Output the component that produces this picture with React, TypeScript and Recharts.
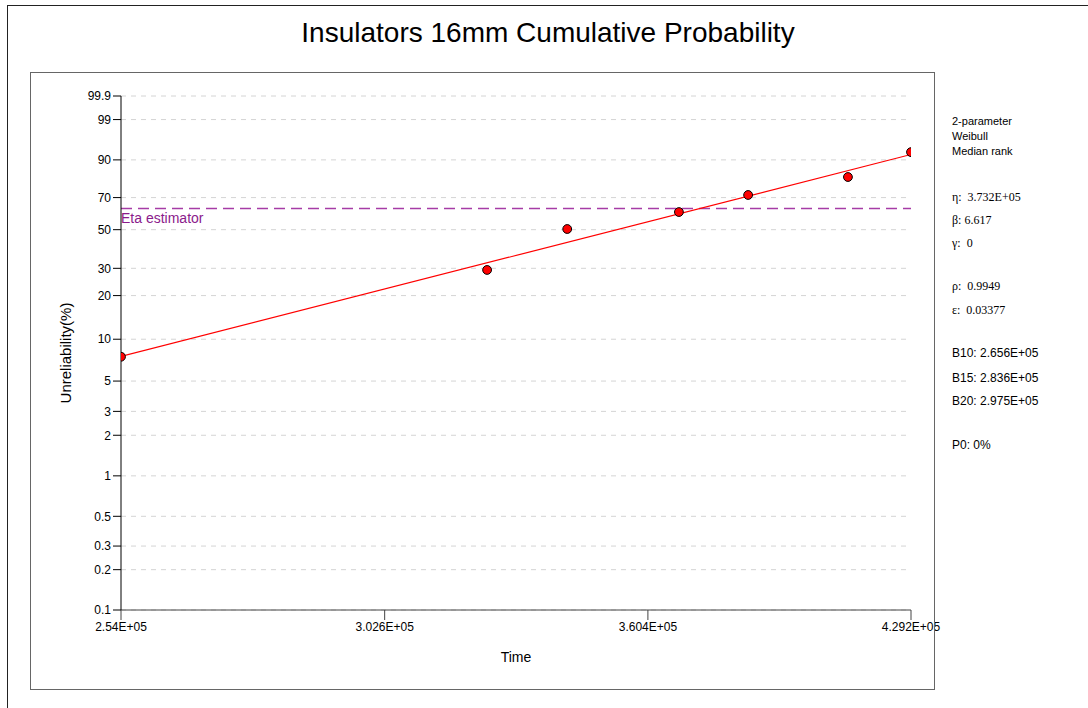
import React from "react"
import {
  ComposedChart,
  Scatter,
  XAxis,
  YAxis,
  CartesianGrid,
  ReferenceLine,
} from "recharts"

// Weibull probability paper: y axis in ln(-ln(1-F)) space
const yTickPercents = [0.1, 0.2, 0.3, 0.5, 1, 2, 3, 5, 10, 20, 30, 50, 70, 90, 99, 99.9]
const yTickLabels = ["0.1", "0.2", "0.3", "0.5", "1", "2", "3", "5", "10", "20", "30", "50", "70", "90", "99", "99.9"]

const xTicks = [254000, 302600, 360400, 429200]
const xTickLabels = ["2.54E+05", "3.026E+05", "3.604E+05", "4.292E+05"]

// failure points (time, unreliability %)
const failTimes = [254000, 323900, 341600, 367900, 385200, 411600, 429200]
const failUnrel = [7.5, 29.3, 50.4, 60.9, 71.6, 82.0, 92.8]

// fitted line endpoints
const fitTimes = [254000, 429200]
const fitUnrel = [7.54, 92.0]

const etaPercent = 63.2

const paramLines = ["2-parameter", "Weibull", "Median rank"]
const statLines = [
  { text: "η:  3.732E+05", y: 197 },
  { text: "β: 6.617", y: 220 },
  { text: "γ:  0", y: 243 },
  { text: "ρ:  0.9949", y: 286 },
  { text: "ε:  0.03377", y: 310 },
]
const bLines = [
  { text: "B10: 2.656E+05", y: 353 },
  { text: "B15: 2.836E+05", y: 378 },
  { text: "B20: 2.975E+05", y: 401 },
  { text: "P0: 0%", y: 445 },
]

const weib = (p: number) => Math.log(-Math.log(1 - p / 100))

const yTicks = yTickPercents.map(weib)
const pointData = failTimes.map((t, i) => ({ t, w: weib(failUnrel[i]) }))
const fitData = fitTimes.map((t, i) => ({ t, w: weib(fitUnrel[i]) }))

const font = "Arial, 'Liberation Sans', sans-serif"

function yLabel(v: number) {
  let best = 0
  yTicks.forEach((t, i) => {
    if (Math.abs(t - v) < Math.abs(yTicks[best] - v)) best = i
  })
  return yTickLabels[best]
}

function xLabel(v: number) {
  const i = xTicks.indexOf(v)
  return i >= 0 ? xTickLabels[i] : String(v)
}

function Dot(props: any) {
  const { cx, cy } = props
  if (cx == null || cy == null) return null
  return <circle cx={cx} cy={cy} r={4.4} fill="#ff0000" stroke="#000" strokeWidth={1} />
}

function EtaLabel(props: any) {
  const vb = props.viewBox || {}
  return (
    <text x={vb.x} y={(vb.y || 0) + 15} fill="#8b1a8b" fontSize={14} fontFamily={font}>
      Eta estimator
    </text>
  )
}

function YTitle() {
  return (
    <text
      x={65}
      y={353}
      transform="rotate(-90, 65, 353)"
      textAnchor="middle"
      dominantBaseline="central"
      fontSize={15}
      fontFamily={font}
      fill="#000"
    >
      Unreliability(%)
    </text>
  )
}

export default function App() {
  return (
    <div style={{ position: "absolute", left: 0, top: 0, width: 1088, height: 708, background: "#fff", fontFamily: font }}>
      <div style={{ position: "absolute", left: 0, top: 17, width: 1096, textAlign: "center", fontSize: 28, color: "#000" }}>
        Insulators 16mm Cumulative Probability
      </div>
      {paramLines.map((t, i) => (
        <div key={t} style={{ position: "absolute", left: 952, top: 114 + i * 15, fontSize: 11, lineHeight: "14px", color: "#000" }}>
          {t}
        </div>
      ))}
      {statLines.map((s) => (
        <div key={s.text} style={{ position: "absolute", left: 952, top: s.y - 8, fontSize: 12, lineHeight: "16px", fontFamily: "'Liberation Serif', 'DejaVu Serif', serif", color: "#000", whiteSpace: "pre" }}>
          {s.text}
        </div>
      ))}
      {bLines.map((s) => (
        <div key={s.text} style={{ position: "absolute", left: 952, top: s.y - 8, fontSize: 12, lineHeight: "16px", color: "#000" }}>
          {s.text}
        </div>
      ))}
      <div style={{ position: "absolute", left: 0, top: 0 }}>
        <ComposedChart width={1088} height={708} margin={{ top: 96, right: 177, left: 0, bottom: 0 }}>
          <CartesianGrid vertical={false} stroke="#d4d4d4" strokeDasharray="5 5" />
          <XAxis
            dataKey="t"
            type="number"
            scale="log"
            domain={[254000, 429200]}
            ticks={xTicks}
            tickFormatter={xLabel}
            allowDataOverflow
            height={98}
            tickSize={10}
            axisLine={{ stroke: "#444" }}
            tickLine={{ stroke: "#444" }}
            tick={{ fontSize: 12, fill: "#000", fontFamily: font }}
            interval={0}
            label={{ value: "Time", position: "insideTop", offset: 42, fontSize: 14, fill: "#000", fontFamily: font }}
          />
          <YAxis
            dataKey="w"
            type="number"
            domain={[weib(0.1), weib(99.9)]}
            ticks={yTicks}
            tickFormatter={yLabel}
            allowDataOverflow
            width={121}
            tickSize={8}
            interval={0}
            axisLine={{ stroke: "#000" }}
            tickLine={{ stroke: "#000" }}
            tick={{ fontSize: 12, fill: "#000", fontFamily: font }}
            label={<YTitle />}
          />
          <ReferenceLine
            y={weib(etaPercent)}
            stroke="#a63ca6"
            strokeWidth={1.5}
            strokeDasharray="11 6"
            label={<EtaLabel />}
          />
          <Scatter
            data={fitData}
            line={{ stroke: "#ff0000", strokeWidth: 1.2 }}
            shape={() => <g />}
            isAnimationActive={false}
          />
          <Scatter data={pointData} shape={<Dot />} isAnimationActive={false} />
        </ComposedChart>
      </div>
      {/* outer frame (left and top edges only) */}
      <div style={{ position: "absolute", left: 7, top: 5, width: 1081, height: 703, borderLeft: "1px solid #222", borderTop: "1px solid #222", boxSizing: "border-box", pointerEvents: "none" }} />
      {/* inner frame */}
      <div style={{ position: "absolute", left: 30, top: 72, width: 905, height: 618, border: "1px solid #666", boxSizing: "border-box", pointerEvents: "none" }} />
    </div>
  )
}
